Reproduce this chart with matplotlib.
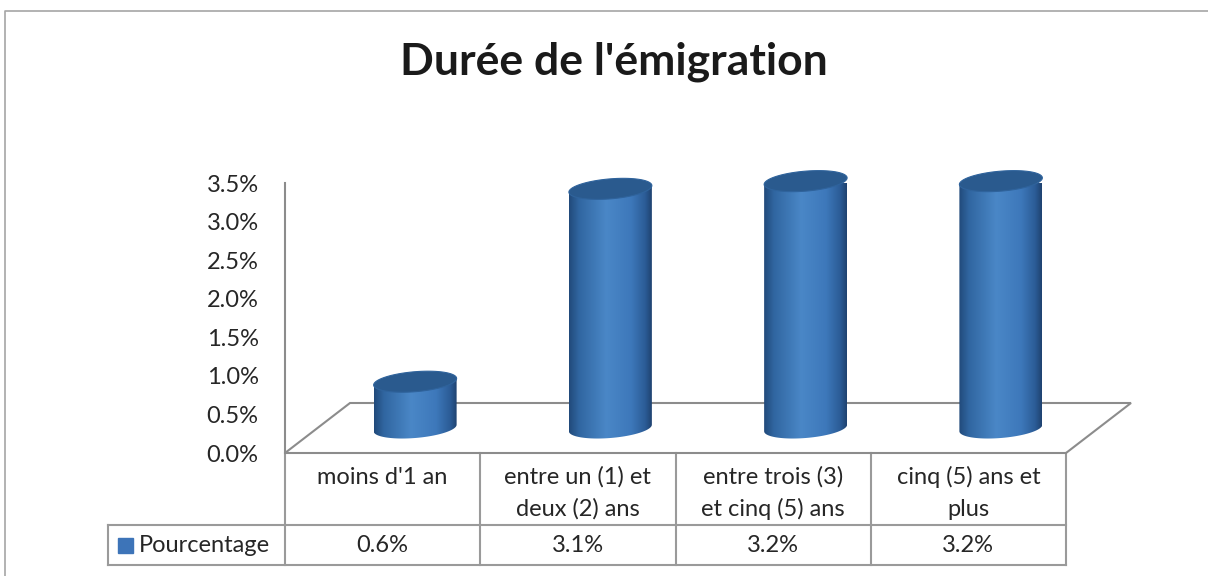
import numpy as np
import matplotlib
matplotlib.use("Agg")
import matplotlib.pyplot as plt
from matplotlib.patches import Polygon
from matplotlib.colors import LinearSegmentedColormap
from matplotlib import ticker

categories = ["moins d'1 an", "entre un (1) et\ndeux (2) ans",
              "entre trois (3)\net cinq (5) ans", "cinq (5) ans et\nplus"]
values = [0.6, 3.1, 3.2, 3.2]
value_labels = ["0.6%", "3.1%", "3.2%", "3.2%"]
series_name = "Pourcentage"
title = "Durée de l'émigration"

W, H = 1208, 576
FONT = "Lato"
FS = 17
GRAY = "#8c8c8c"
TXT = "#262626"

fig = plt.figure(figsize=(W / 100, H / 100), dpi=100)

# overlay in pixel coords for frame and data table
bg = fig.add_axes([0, 0, 1, 1], zorder=0)
bg.set_xlim(0, W)
bg.set_ylim(H, 0)
bg.axis("off")
bg.plot([5, 5, W], [H, 11, 11], color="#a6a6a6", lw=1.2)

bg.text(614, 62, title, ha="center", va="center", fontsize=32,
        fontweight="bold", family=FONT, color="#1a1a1a")

# main plot axes (front plane of the 3D box)
ax = fig.add_axes([285 / W, 1 - 453 / H, (1066 - 285) / W, (453 - 183) / H],
                  zorder=1)
ax.patch.set_alpha(0)
n = len(categories)
DX = 65 / (781 / n)      # depth offset, category units
DY = 50 / (270 / 3.5)    # depth offset, percent units

floor = Polygon([(-0.5, 0), (-0.5 + DX, DY), (n - 0.5 + DX, DY), (n - 0.5, 0)],
                closed=True, fill=False, edgecolor=GRAY, lw=1.5, clip_on=False)
ax.add_patch(floor)

cmap = LinearSegmentedColormap.from_list("cyl", [
    (0.00, (0.13, 0.29, 0.48)),
    (0.12, (0.19, 0.40, 0.63)),
    (0.45, (0.29, 0.53, 0.78)),
    (0.75, (0.24, 0.47, 0.73)),
    (0.92, (0.17, 0.36, 0.59)),
    (1.00, (0.12, 0.26, 0.44)),
])
grad = np.linspace(0, 1, 256)[None, :]

bw = 0.425
a = bw / 2
b = 10 / (270 / 3.5)
k = 0.2   # perspective tilt of the ellipses


def ell(cx, cy, t):
    x = cx + a * np.cos(t)
    return np.column_stack([x, cy + b * np.sin(t) + k * (x - cx)])


for i, v in enumerate(values):
    cx = i + DX / 2
    base = DY / 2
    top = base + v
    arc = ell(cx, base, np.linspace(np.pi, 2 * np.pi, 60))
    pts = np.vstack([[cx - a, top - k * a], arc, [cx + a, top + k * a]])
    body = Polygon(pts, closed=True, facecolor="none", edgecolor="none",
                   clip_on=False)
    ax.add_patch(body)
    im = ax.imshow(grad, cmap=cmap, aspect="auto",
                   extent=[cx - a, cx + a, base - b - k * a, top + k * a],
                   zorder=2, clip_on=True)
    im.set_clip_path(body)
    cap = Polygon(ell(cx, top, np.linspace(0, 2 * np.pi, 90)), closed=True,
                  facecolor="#2a5a8e", edgecolor="#2f639c", lw=0.8, zorder=3,
                  clip_on=False)
    ax.add_patch(cap)

ax.set_xlim(-0.5, n - 0.5)
ax.set_ylim(0, 3.5)
ax.set_yticks(np.arange(0, 3.51, 0.5))
ax.yaxis.set_major_formatter(ticker.PercentFormatter(decimals=1))
ax.set_xticks([])
for s in ["top", "right", "bottom"]:
    ax.spines[s].set_visible(False)
ax.spines["left"].set_color(GRAY)
ax.spines["left"].set_linewidth(1.5)
ax.tick_params(axis="y", length=0, pad=19, labelsize=FS, labelcolor=TXT)
for lab in ax.get_yticklabels():
    lab.set_family(FONT)

# data table below the plot
col_x = [285 + j * 781 / n for j in range(n + 1)]
y0, y1, y2 = 453, 525, 565
tl = dict(color="#9a9a9a", lw=1.5)
for x in col_x:
    bg.plot([x, x], [y0, y2], **tl)
bg.plot([108, 108], [y1, y2], **tl)
bg.plot([108, col_x[-1]], [y1, y1], **tl)
bg.plot([108, col_x[-1]], [y2, y2], **tl)
for j, (cat, lab) in enumerate(zip(categories, value_labels)):
    xc = (col_x[j] + col_x[j + 1]) / 2
    for r, line in enumerate(cat.split("\n")):
        bg.text(xc, 477 + 32 * r, line, ha="center", va="center", fontsize=FS,
                family=FONT, color=TXT)
    bg.text(xc, 545, lab, ha="center", va="center", fontsize=FS, family=FONT,
            color=TXT)
bg.add_patch(plt.Rectangle((118, 538), 15, 15, color="#3d74b8"))
bg.text(139, 545, series_name, ha="left", va="center", fontsize=FS,
        family=FONT, color=TXT)

fig.savefig("out.png", dpi=100)
